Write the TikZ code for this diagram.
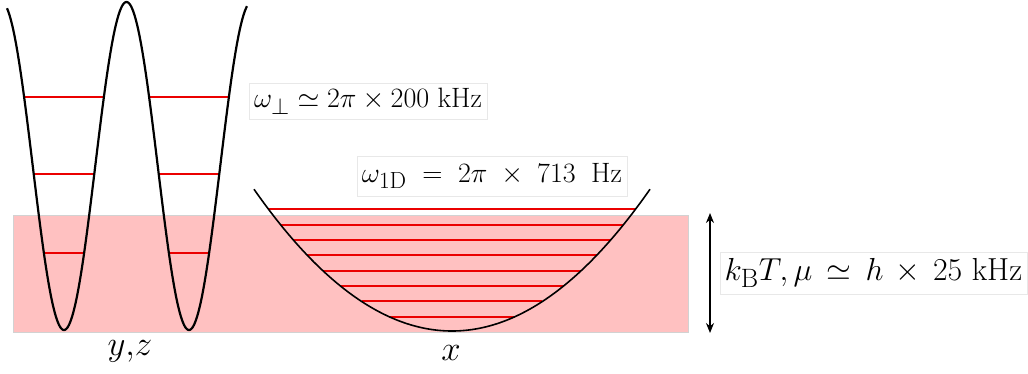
\documentclass[tikz,border=0pt]{standalone}
\usepackage{graphicx}
\usetikzlibrary{arrows.meta}
\definecolor{bandpink}{RGB}{255,193,193}
\definecolor{bandedge}{RGB}{210,210,210}
\definecolor{boxedge}{RGB}{232,232,232}
\definecolor{levelred}{RGB}{235,0,0}
\newcommand{\bigtxt}[2]{\scalebox{#1}{\fontsize{24.88}{30}\selectfont #2}}
\begin{document}
\begin{tikzpicture}[x=1pt,y=-1pt,
  lbl/.style={draw=boxedge,line width=0.6pt,fill=white,inner sep=0pt},
  axlbl/.style={inner sep=0pt},
  level/.style={levelred,line width=2pt},
  curve/.style={black,line width=2.2pt}]
\useasboundingbox (0,0) rectangle (1028,373);
% thermal band
\node[draw=bandedge,fill=bandpink,line width=1pt,minimum width=675pt,minimum height=117pt,inner sep=0pt,anchor=north west] (band) at (12.5,214.5) {};
% double well levels
\foreach \yy in {96.7,174,253}{
  \pgfmathsetmacro{\th}{acos((166-\yy)/164)}
  \pgfmathsetmacro{\dx}{\th/360*125}
  \draw[level] ({126.5-125+\dx},\yy) -- ({126.5-\dx},\yy);
  \draw[level] ({126.5+\dx},\yy) -- ({126.5+125-\dx},\yy);
}
\draw[curve,smooth] plot[domain=7:247,samples=241] (\x,{166-164*cos(2.88*(\x-126.5))});
% harmonic levels
\foreach \i in {0,...,7}{
  \pgfmathsetmacro{\yy}{209.3+15.35*\i}
  \pgfmathsetmacro{\hw}{16.62*sqrt(331-\yy)}
  \draw[level] ({452-\hw},\yy) -- ({452+\hw},\yy);
}
\draw[curve,line width=1.6pt,smooth] plot[domain=254:650,samples=200] (\x,{331-0.00362*(\x-452)*(\x-452)});
% labels
\node[lbl,minimum width=238pt,minimum height=36pt] (wperp) at (368,101) {\bigtxt{1.125}{$\omega_\perp \simeq 2\pi\times 200\ \mathrm{kHz}$}};
\node[lbl,minimum width=270pt,minimum height=40pt] (w1d) at (492,176) {\bigtxt{1.125}{$\omega_{\mathrm{1D}}\;=\;2\pi\;\times\;713\;\;\mathrm{Hz}$}};
\node[lbl,minimum width=307pt,minimum height=42pt] (kbt) at (873.5,273) {\bigtxt{1.28}{$k_{\mathrm{B}}T,\mu\,\simeq\,h\,\times\,25\ \mathrm{kHz}$}};
\node[axlbl] (yz) at (130,351) {\bigtxt{1.4}{$y,\!z$}};
\node[axlbl] (xl) at (451,353) {\bigtxt{1.4}{$x$}};
% energy arrow
\coordinate (atop) at (710,213);
\coordinate (abot) at (710,333);
\draw[line width=1.3pt,{Stealth[length=10pt,width=8pt]}-{Stealth[length=10pt,width=8pt]}] (atop) -- (abot);
\end{tikzpicture}
\end{document}
